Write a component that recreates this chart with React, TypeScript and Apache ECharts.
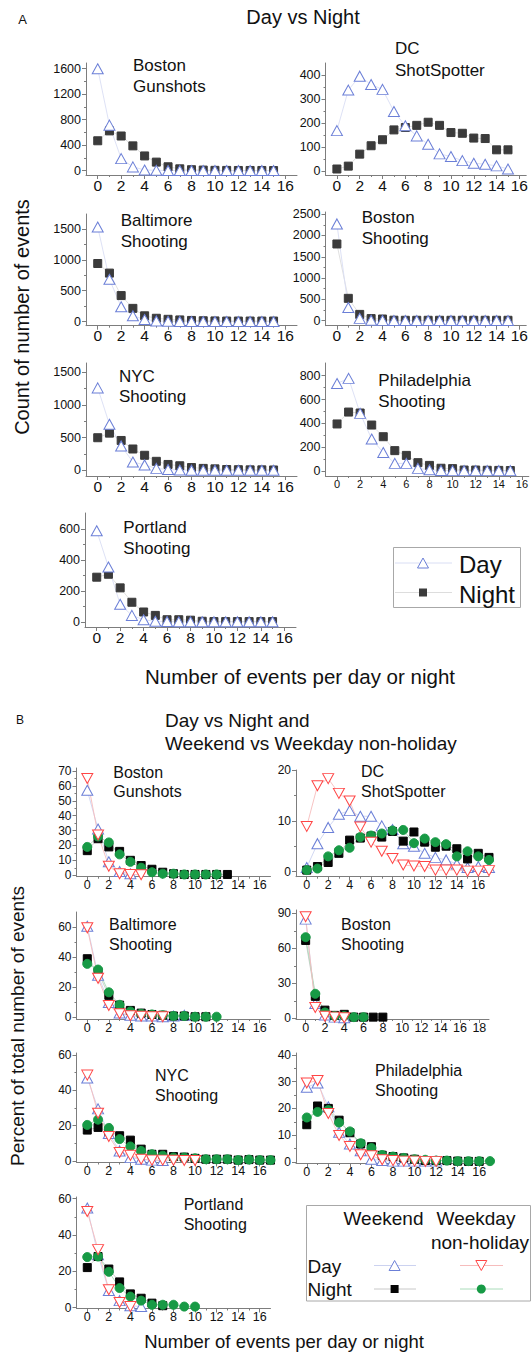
import React, { useEffect, useRef } from "react";
import * as echarts from "echarts";

const FONT = "'Liberation Sans', Arial, Helvetica, sans-serif";

// ---------- Panel A: count of number of events (x = 0..15) ----------
const aBostonGunDay = [1600, 715, 190, 60, 12, 6, 4, 3, 3, 3, 3, 3, 3, 3, 3, 3];
const aBostonGunNight = [470, 625, 545, 390, 232, 135, 62, 30, 16, 10, 6, 5, 4, 4, 4, 3];
const aDcDay = [168, 337, 395, 360, 340, 248, 188, 146, 111, 71, 60, 43, 32, 28, 21, 8];
const aDcNight = [8, 20, 70, 105, 130, 171, 181, 190, 203, 190, 160, 157, 137, 135, 88, 88];
const aBaltDay = [1530, 685, 240, 95, 35, 12, 6, 4, 3, 3, 3, 3, 3, 3, 3, 3];
const aBaltNight = [940, 785, 422, 215, 95, 55, 38, 28, 20, 15, 12, 10, 10, 10, 10, 10];
const aBosShootDay = [2270, 310, 55, 12, 8, 6, 5, 5, 5, 5, 5, 5, 5, 5, 5, 5];
const aBosShootNight = [1800, 525, 148, 50, 40, 12, 10, 10, 10, 10, 10, 10, 10, 10, 10, 10];
const aNycDay = [1260, 705, 375, 130, 85, 32, 15, 8, 5, 4, 3, 3, 3, 3, 3, 3];
const aNycNight = [500, 570, 458, 328, 232, 140, 92, 72, 45, 32, 25, 15, 12, 10, 10, 8];
const aPhilDay = [735, 778, 484, 268, 155, 64, 64, 22, 10, 5, 3, 3, 3, 3, 3, 3];
const aPhilNight = [395, 495, 487, 386, 288, 171, 131, 70, 47, 23, 20, 8, 8, 6, 5, 4];
const aPortDay = [590, 356, 115, 43, 15, 5, 3, 2, 2, 2, 2, 2, 2, 2, 2, 2];
const aPortNight = [290, 309, 221, 128, 65, 43, 15, 15, 12, 5, 3, 3, 3, 3, 3, 3];

// ---------- Panel B: percent of total number of events ----------
const bBostonGunWeDay = [57, 31, 9, 2.5, 1];
const bBostonGunWdDay = [65, 27, 6, 1, 0.5, 0.3];
const bBostonGunWeNight = [16.5, 24.5, 19, 16, 10, 6.5, 4, 2, 1, 0.5, 0.5, 0.5, 0.5, 0.5];
const bBostonGunWdNight = [19, 26, 22, 14, 9, 5, 2, 1, 1, 0.5, 0.5, 0.5, 0.5];

const bDcWeDay = [0.8, 5.5, 8.7, 11.3, 12, 10.9, 10.9, 9, 8.3, 5.5, 5, 3.6, 2.8, 2.3, 1.5, 0.8, 1.0, 0.8];
const bDcWdDay = [8.9, 16.9, 18.3, 15.4, 13.9, 8.8, 5.8, 4, 2.6, 1.3, 1.1, 1, 0.3, 0.3, 0.3, 0.1, 0.1, 0.2];
const bDcWeNight = [0.3, 1, 1.8, 3.6, 6.2, 6.6, 7, 6.8, 7.9, 6, 7.8, 5.8, 4.8, 5, 4.5, 2.5, 3.6, 2.8];
const bDcWdNight = [0.3, 0.6, 3, 4.2, 4.7, 6.8, 7.1, 7.5, 8.1, 8.2, 5.6, 6.5, 5.8, 5.4, 3, 4, 3, 2.3];

const bBaltWeDay = [60.5, 28, 10, 3, 1.5, 1, 1, 0.5, 1, 1.5];
const bBaltWdDay = [59.5, 26, 8, 2.5, 1.2, 0.8, 0.5, 0.5];
const bBaltWeNight = [39, 30, 14.7, 8.2, 4.7, 2.9, 2, 1.5, 1, 1, 0.5, 0.5];
const bBaltWdNight = [35.6, 31.8, 16.7, 8.4, 4, 2.5, 2, 1.5, 1, 1, 0.5, 0.5, 0.5];

const bBosShootWeDay = [85, 12.6, 2.8, 1, 0.5];
const bBosShootWdDay = [87, 9.3, 1.7, 1, 0.5];
const bBosShootWeNight = [66.7, 18.8, 7, 2.5, 3.4, 1, 1, 1, 1];
const bBosShootWdNight = [69.5, 21, 5, 2, 2, 1, 1];

const bNycWeDay = [47, 29.5, 15.6, 5.7, 1.9, 1, 0.5, 0.3];
const bNycWdDay = [48.6, 27, 13.9, 4.8, 3.2, 1, 0.5, 0.5, 0.4, 0.3, 0.3];
const bNycWeNight = [17.5, 19, 16.8, 14.3, 11.8, 6.7, 3.8, 3.8, 2.5, 2.2, 1.5, 1, 1, 1, 0.5, 0.8, 0.5, 0.5];
const bNycWdNight = [20.4, 23.4, 18.7, 12.4, 8.2, 5.7, 3.8, 3, 2, 2, 1.5, 1, 1, 1, 0.5, 0.8, 0.5, 0.5];

const bPhilWeDay = [27.9, 29.5, 20.6, 11.1, 6.7, 4.2, 1, 0.5, 0.3, 0.3, 0.3, 0.3, 0.3];
const bPhilWdDay = [29.5, 30.4, 18.1, 9.9, 5.8, 2.7, 2.3, 0.8, 0.5, 0.3, 0.3, 0.2, 0.2];
const bPhilWeNight = [13.9, 20.9, 20, 15.6, 10.9, 6.7, 5.7, 2.5, 2, 1.5, 1, 0.5, 0.5, 0.5, 0.3, 0.2, 0.2];
const bPhilWdNight = [16.6, 18.7, 19.4, 14.7, 11.4, 7, 5.2, 2.6, 2, 1.5, 1, 0.8, 0.5, 0.5, 0.3, 0.3, 0.3, 0.3];

const bPortWeDay = [54.8, 29, 9.4, 3.8, 1, 0.5];
const bPortWdDay = [52.9, 31.9, 9.8, 2.8, 0.5];
const bPortWeNight = [22, 28.1, 21.2, 14.1, 7.5, 5.1, 2.4, 1];
const bPortWdNight = [27.8, 28.1, 19.7, 10.7, 6, 3.8, 1.5, 1.5, 1.5, 0.5, 0.5];

// ---------- tick labels ----------
const xEven16 = [0, 2, 4, 6, 8, 10, 12, 14, 16];
const xOdd15 = [1, 3, 5, 7, 9, 11, 13, 15];
const xEven18 = [0, 2, 4, 6, 8, 10, 12, 14, 16, 18];
const xOdd17 = [1, 3, 5, 7, 9, 11, 13, 15, 17];

const yA1 = [0, 400, 800, 1200, 1600];
const yA1m = [200, 600, 1000, 1400];
const yA2 = [0, 100, 200, 300, 400];
const yA2m = [50, 150, 250, 350];
const yA3 = [0, 500, 1000, 1500];
const yA3m = [250, 750, 1250];
const yA4 = [0, 500, 1000, 1500, 2000, 2500];
const yA4m = [250, 750, 1250, 1750, 2250];
const yA6 = [0, 200, 400, 600, 800];
const yA6m = [100, 300, 500, 700];
const yA7 = [0, 200, 400, 600];
const yA7m = [100, 300, 500];

const yB1 = [0, 10, 20, 30, 40, 50, 60, 70];
const yB1m = [5, 15, 25, 35, 45, 55, 65];
const yB2 = [0, 10, 20];
const yB2m = [5, 15];
const yB60 = [0, 20, 40, 60];
const yB60m = [10, 30, 50];
const yB4 = [0, 30, 60, 90];
const yB4m = [15, 45, 75];
const yB6 = [0, 10, 20, 30, 40];
const yB6m = [5, 15, 25, 35];

type Kind = "day" | "night" | "weDay" | "wdDay" | "weNight" | "wdNight";

const STYLE: Record<Kind, any> = {
  day: { symbol: "triangle", size: [11, 10], rotate: 0, fill: "#ffffff", border: "#6b7fd7", line: "#d9def4" },
  night: { symbol: "rect", size: 8, rotate: 0, fill: "#3b3b3b", border: "#3b3b3b", line: "#dddddd" },
  weDay: { symbol: "triangle", size: [11, 10], rotate: 0, fill: "#ffffff", border: "#6b7fd7", line: "#ccd2f0" },
  wdDay: { symbol: "triangle", size: [11, 10], rotate: 180, fill: "#ffffff", border: "#ff4646", line: "#f6bcbc" },
  weNight: { symbol: "rect", size: 8, rotate: 0, fill: "#050505", border: "#050505", line: "#c8c8c8" },
  wdNight: { symbol: "circle", size: 9, rotate: 0, fill: "#179a45", border: "#179a45", line: "#aadcba" },
};

interface Panel {
  left: number; top: number; width: number; height: number;
  xMin: number; xMax: number; xMajor: number[]; xMinor: number[];
  yMin: number; yMax: number; yMajor: number[]; yMinor: number[];
  xFont: number; yFont: number;
  series: { kind: Kind; data: number[] }[];
  label: string[]; labelX: number; labelY: number[]; labelFont: number;
}

const AL = 86, AW = 211, AR = 325.5, ARW = 204.5;
const BL = 76.5, BW = 194, BR = 296, BRW = 194;

const panels: Panel[] = [
  { left: AL, top: 63, width: AW, height: 112, xMin: -1, xMax: 17, xMajor: xEven16, xMinor: xOdd15,
    yMin: -67, yMax: 1690, yMajor: yA1, yMinor: yA1m, xFont: 15.5, yFont: 12.5,
    series: [{ kind: "night", data: aBostonGunNight }, { kind: "day", data: aBostonGunDay }],
    label: ["Boston", "Gunshots"], labelX: 133, labelY: [65, 86], labelFont: 17 },
  { left: AR, top: 63, width: ARW, height: 112, xMin: -1, xMax: 16.6, xMajor: xEven16, xMinor: xOdd15,
    yMin: -17, yMax: 450, yMajor: yA2, yMinor: yA2m, xFont: 15.5, yFont: 12.5,
    series: [{ kind: "night", data: aDcNight }, { kind: "day", data: aDcDay }],
    label: ["DC", "ShotSpotter"], labelX: 395, labelY: [48, 70], labelFont: 17 },
  { left: AL, top: 214, width: AW, height: 111.7, xMin: -1, xMax: 17, xMajor: xEven16, xMinor: xOdd15,
    yMin: -65, yMax: 1740, yMajor: yA3, yMinor: yA3m, xFont: 15.5, yFont: 12.5,
    series: [{ kind: "night", data: aBaltNight }, { kind: "day", data: aBaltDay }],
    label: ["Baltimore", "Shooting"], labelX: 120.7, labelY: [220, 241], labelFont: 17 },
  { left: AR, top: 212, width: ARW, height: 113.7, xMin: -1, xMax: 16.6, xMajor: xEven16, xMinor: xOdd15,
    yMin: -117, yMax: 2550, yMajor: yA4, yMinor: yA4m, xFont: 15.5, yFont: 12.5,
    series: [{ kind: "night", data: aBosShootNight }, { kind: "day", data: aBosShootDay }],
    label: ["Boston", "Shooting"], labelX: 361.7, labelY: [217, 238], labelFont: 17 },
  { left: AL, top: 363, width: AW, height: 113, xMin: -1, xMax: 17, xMajor: xEven16, xMinor: xOdd15,
    yMin: -84, yMax: 1640, yMajor: yA3, yMinor: yA3m, xFont: 15.5, yFont: 12.5,
    series: [{ kind: "night", data: aNycNight }, { kind: "day", data: aNycDay }],
    label: ["NYC", "Shooting"], labelX: 119, labelY: [376, 396], labelFont: 17 },
  { left: AR, top: 363, width: ARW, height: 113, xMin: -1, xMax: 16.6, xMajor: xEven16, xMinor: xOdd15,
    yMin: -42, yMax: 907, yMajor: yA6, yMinor: yA6m, xFont: 11, yFont: 12.5,
    series: [{ kind: "night", data: aPhilNight }, { kind: "day", data: aPhilDay }],
    label: ["Philadelphia", "Shooting"], labelX: 378.3, labelY: [380, 401], labelFont: 17 },
  { left: 85, top: 513, width: AW, height: 114, xMin: -1, xMax: 17, xMajor: xEven16, xMinor: xOdd15,
    yMin: -32, yMax: 705, yMajor: yA7, yMinor: yA7m, xFont: 15.5, yFont: 12.5,
    series: [{ kind: "night", data: aPortNight }, { kind: "day", data: aPortDay }],
    label: ["Portland", "Shooting"], labelX: 123.3, labelY: [527, 548], labelFont: 17 },

  { left: BL, top: 768, width: BW, height: 108.7, xMin: -1, xMax: 17, xMajor: xEven16, xMinor: xOdd15,
    yMin: -1, yMax: 72, yMajor: yB1, yMinor: yB1m, xFont: 12.5, yFont: 12,
    series: [{ kind: "weDay", data: bBostonGunWeDay }, { kind: "weNight", data: bBostonGunWeNight },
      { kind: "wdNight", data: bBostonGunWdNight }, { kind: "wdDay", data: bBostonGunWdDay }],
    label: ["Boston", "Gunshots"], labelX: 113.3, labelY: [772, 791], labelFont: 16 },
  { left: BR, top: 770, width: 193, height: 106.7, xMin: -1, xMax: 17, xMajor: xEven16, xMinor: xOdd15,
    yMin: -1, yMax: 20, yMajor: yB2, yMinor: yB2m, xFont: 12.5, yFont: 12,
    series: [{ kind: "weDay", data: bDcWeDay }, { kind: "weNight", data: bDcWeNight },
      { kind: "wdNight", data: bDcWdNight }, { kind: "wdDay", data: bDcWdDay }],
    label: ["DC", "ShotSpotter"], labelX: 361, labelY: [771, 791], labelFont: 16 },
  { left: BL, top: 912, width: BW, height: 107, xMin: -1, xMax: 17, xMajor: xEven16, xMinor: xOdd15,
    yMin: -1, yMax: 70, yMajor: yB60, yMinor: yB60m, xFont: 12.5, yFont: 12,
    series: [{ kind: "weDay", data: bBaltWeDay }, { kind: "weNight", data: bBaltWeNight },
      { kind: "wdNight", data: bBaltWdNight }, { kind: "wdDay", data: bBaltWdDay }],
    label: ["Baltimore", "Shooting"], labelX: 109, labelY: [924, 944], labelFont: 16 },
  { left: BR, top: 910, width: 193, height: 109, xMin: -1, xMax: 19, xMajor: xEven18, xMinor: xOdd17,
    yMin: -0.6, yMax: 92.8, yMajor: yB4, yMinor: yB4m, xFont: 12.5, yFont: 12,
    series: [{ kind: "weDay", data: bBosShootWeDay }, { kind: "weNight", data: bBosShootWeNight },
      { kind: "wdNight", data: bBosShootWdNight }, { kind: "wdDay", data: bBosShootWdDay }],
    label: ["Boston", "Shooting"], labelX: 341, labelY: [924, 944], labelFont: 16 },
  { left: BL, top: 1053, width: BW, height: 109.5, xMin: -1, xMax: 17, xMajor: xEven16, xMinor: xOdd15,
    yMin: -0.85, yMax: 61.1, yMajor: yB60, yMinor: yB60m, xFont: 12.5, yFont: 12,
    series: [{ kind: "weDay", data: bNycWeDay }, { kind: "weNight", data: bNycWeNight },
      { kind: "wdNight", data: bNycWdNight }, { kind: "wdDay", data: bNycWdDay }],
    label: ["NYC", "Shooting"], labelX: 155, labelY: [1075, 1095], labelFont: 16 },
  { left: BR, top: 1053, width: BRW, height: 110, xMin: -1, xMax: 17, xMajor: xEven16, xMinor: xOdd15,
    yMin: -0.4, yMax: 40.7, yMajor: yB6, yMinor: yB6m, xFont: 12.5, yFont: 12,
    series: [{ kind: "weDay", data: bPhilWeDay }, { kind: "weNight", data: bPhilWeNight },
      { kind: "wdNight", data: bPhilWdNight }, { kind: "wdDay", data: bPhilWdDay }],
    label: ["Philadelphia", "Shooting"], labelX: 375, labelY: [1070, 1090], labelFont: 16 },
  { left: BL, top: 1197, width: BW, height: 111.5, xMin: -1, xMax: 17, xMajor: xEven16, xMinor: xOdd15,
    yMin: -0.55, yMax: 60.9, yMajor: yB60, yMinor: yB60m, xFont: 12.5, yFont: 12,
    series: [{ kind: "weDay", data: bPortWeDay }, { kind: "weNight", data: bPortWeNight },
      { kind: "wdNight", data: bPortWdNight }, { kind: "wdDay", data: bPortWdDay }],
    label: ["Portland", "Shooting"], labelX: 183.7, labelY: [1204, 1224], labelFont: 16 },
];

const AXIS = "#7d7d7d";
const TXT = "#111111";
const plain = (v: number) => String(v);

function txt(text: string, x: number, y: number, size: number, align = "left", extra: any = {}) {
  return {
    type: "text", x, y, silent: true, ...extra,
    style: { text, fontSize: size, fontFamily: FONT, fill: TXT, align, verticalAlign: "middle" },
  };
}

function tri(cx: number, cy: number, down: boolean, color: string) {
  const h = 5, w = 5.5;
  const pts = down
    ? [[cx - w, cy - h], [cx + w, cy - h], [cx, cy + h]]
    : [[cx, cy - h], [cx + w, cy + h], [cx - w, cy + h]];
  return { type: "polygon", silent: true, shape: { points: pts }, style: { fill: "#fff", stroke: color, lineWidth: 1 } };
}

function hline(x1: number, x2: number, y: number, color: string) {
  return { type: "line", silent: true, shape: { x1, y1: y, x2, y2: y }, style: { stroke: color, lineWidth: 1 } };
}

function buildOption() {
  const grid: any[] = [];
  const xAxis: any[] = [];
  const yAxis: any[] = [];
  const series: any[] = [];
  const graphic: any[] = [];

  panels.forEach((p, i) => {
    grid.push({ left: p.left, top: p.top, width: p.width, height: p.height, containLabel: false });
    const lineOn = { show: true, onZero: false, lineStyle: { color: AXIS, width: 1 } };
    const lineOff = { show: false, onZero: false };
    xAxis.push({
      type: "value", gridIndex: i, position: "bottom", min: p.xMin, max: p.xMax,
      axisLine: lineOn, splitLine: { show: false },
      axisTick: { show: true, length: 4, customValues: p.xMajor, lineStyle: { color: AXIS } },
      axisLabel: { show: true, customValues: p.xMajor, formatter: plain, fontSize: p.xFont, fontFamily: FONT, color: TXT, margin: 2 },
    });
    xAxis.push({
      type: "value", gridIndex: i, position: "bottom", min: p.xMin, max: p.xMax,
      axisLine: lineOff, splitLine: { show: false },
      axisTick: { show: true, length: 2, customValues: p.xMinor, lineStyle: { color: AXIS } },
      axisLabel: { show: false },
    });
    yAxis.push({
      type: "value", gridIndex: i, position: "left", min: p.yMin, max: p.yMax,
      axisLine: lineOn, splitLine: { show: false },
      axisTick: { show: true, length: 4, customValues: p.yMajor, lineStyle: { color: AXIS } },
      axisLabel: { show: true, customValues: p.yMajor, formatter: plain, fontSize: p.yFont, fontFamily: FONT, color: TXT, margin: 5 },
    });
    yAxis.push({
      type: "value", gridIndex: i, position: "left", min: p.yMin, max: p.yMax,
      axisLine: lineOff, splitLine: { show: false },
      axisTick: { show: true, length: 2, customValues: p.yMinor, lineStyle: { color: AXIS } },
      axisLabel: { show: false },
    });
    p.series.forEach((s) => {
      const st = STYLE[s.kind];
      series.push({
        type: "line", xAxisIndex: 2 * i, yAxisIndex: 2 * i,
        data: s.data.map((v, k) => [k, v]),
        symbol: st.symbol, symbolSize: st.size, symbolRotate: st.rotate, showSymbol: true,
        itemStyle: { color: st.fill, borderColor: st.border, borderWidth: 1 },
        lineStyle: { color: st.line, width: 0.9 },
        emphasis: { disabled: true }, silent: true, clip: true,
      });
    });
    p.label.forEach((t, k) => graphic.push(txt(t, p.labelX, p.labelY[k], p.labelFont)));
  });

  // Titles and axis names
  graphic.push(txt("A", 22.7, 19, 13, "center"));
  graphic.push(txt("Day vs Night", 303, 17, 20, "center"));
  graphic.push(txt("Number of events per day or night", 300, 676, 20.5, "center"));
  graphic.push(txt("Count of number of events", 22, 317, 20, "center", { rotation: Math.PI / 2 }));
  graphic.push(txt("B", 20, 720, 12, "center"));
  graphic.push(txt("Day vs Night and", 165, 720, 19, "left"));
  graphic.push(txt("Weekend vs Weekday non-holiday", 165, 743, 19, "left"));
  graphic.push(txt("Number of events per day or night", 284, 1341, 18.5, "center"));
  graphic.push(txt("Percent of total number of events", 17, 1026, 19, "center", { rotation: Math.PI / 2 }));

  // Legend A
  graphic.push({ type: "rect", silent: true, shape: { x: 393.5, y: 547.5, width: 127, height: 60 },
    style: { fill: "#fff", stroke: "#a8a8a8", lineWidth: 1 } });
  graphic.push(hline(395, 452, 563, STYLE.day.line));
  graphic.push(tri(423, 563, false, STYLE.day.border));
  graphic.push(txt("Day", 459, 564, 24));
  graphic.push(hline(395, 452, 592.5, STYLE.night.line));
  graphic.push({ type: "rect", silent: true, shape: { x: 419, y: 588.5, width: 8, height: 8 }, style: { fill: STYLE.night.fill } });
  graphic.push(txt("Night", 459, 594, 24));

  // Legend B
  graphic.push({ type: "rect", silent: true, shape: { x: 306.5, y: 1205.5, width: 224, height: 95.5 },
    style: { fill: "#fff", stroke: "#a8a8a8", lineWidth: 1 } });
  graphic.push(txt("Weekend", 383.5, 1218, 19, "center"));
  graphic.push(txt("Weekday", 476, 1218, 19, "center"));
  graphic.push(txt("non-holiday", 480, 1242, 19, "center"));
  graphic.push(txt("Day", 307.5, 1266, 19));
  graphic.push(txt("Night", 307.5, 1289, 19));
  graphic.push(hline(374, 416, 1265.5, STYLE.weDay.line));
  graphic.push(tri(394.6, 1265.5, false, STYLE.weDay.border));
  graphic.push(hline(460, 503, 1265.5, STYLE.wdDay.line));
  graphic.push(tri(481.3, 1265.5, true, STYLE.wdDay.border));
  graphic.push(hline(374, 416, 1289, STYLE.weNight.line));
  graphic.push({ type: "rect", silent: true, shape: { x: 390.6, y: 1285, width: 8, height: 8 }, style: { fill: STYLE.weNight.fill } });
  graphic.push(hline(460, 503, 1289, STYLE.wdNight.line));
  graphic.push({ type: "circle", silent: true, shape: { cx: 481.3, cy: 1289, r: 4.5 }, style: { fill: STYLE.wdNight.fill } });

  return {
    animation: false,
    backgroundColor: "#ffffff",
    grid, xAxis, yAxis, series, graphic,
  };
}

export default function App() {
  const ref = useRef<HTMLDivElement>(null);
  useEffect(() => {
    document.body.style.margin = "0";
    if (!ref.current) return;
    const chart = echarts.init(ref.current, undefined, { renderer: "svg" });
    chart.setOption(buildOption() as any);
    return () => chart.dispose();
  }, []);
  return <div ref={ref} style={{ width: 531, height: 1353, background: "#fff" }} />;
}
